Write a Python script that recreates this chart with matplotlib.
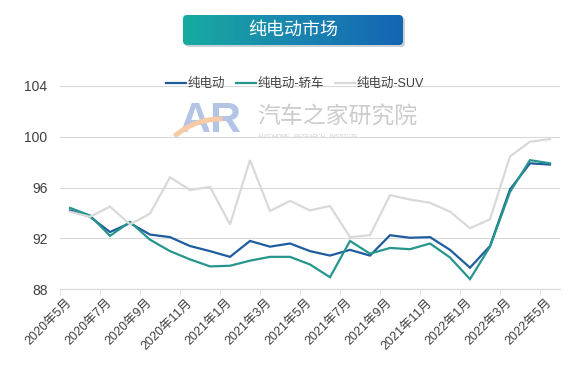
import numpy as np
import matplotlib
matplotlib.use('Agg')
import matplotlib.pyplot as plt
from matplotlib.patches import FancyBboxPatch, Arc
from matplotlib.colors import LinearSegmentedColormap

plt.rcParams['font.family'] = ['Liberation Sans', 'Noto Sans CJK SC']

months = ['2020年5月', '2020年6月', '2020年7月', '2020年8月', '2020年9月',
          '2020年10月', '2020年11月', '2020年12月', '2021年1月', '2021年2月',
          '2021年3月', '2021年4月', '2021年5月', '2021年6月', '2021年7月',
          '2021年8月', '2021年9月', '2021年10月', '2021年11月', '2021年12月',
          '2022年1月', '2022年2月', '2022年3月', '2022年4月', '2022年5月']
tick_labels = months[::2]

bev = [94.2, 93.7, 92.5, 93.2, 92.3, 92.1, 91.4, 91.0, 90.55, 91.8, 91.35, 91.6,
       91.0, 90.65, 91.1, 90.65, 92.25, 92.05, 92.1, 91.1, 89.7, 91.4, 95.85,
       97.9, 97.8]
bev_sedan = [94.4, 93.8, 92.2, 93.3, 91.9, 91.0, 90.35, 89.8, 89.85, 90.25,
             90.55, 90.55, 89.95, 88.95, 91.8, 90.8, 91.25, 91.15, 91.6, 90.5,
             88.8, 91.35, 95.65, 98.15, 97.9]
bev_suv = [94.1, 93.7, 94.5, 93.1, 93.95, 96.8, 95.8, 96.05, 93.1, 98.15, 94.15,
           94.95, 94.2, 94.55, 92.1, 92.25, 95.4, 95.05, 94.8, 94.1, 92.8, 93.5,
           98.45, 99.6, 99.8]
series_names = ['纯电动', '纯电动-轿车', '纯电动-SUV']
yticks = [88, 92, 96, 100, 104]

W, H = 587, 382
fig = plt.figure(figsize=(W / 100, H / 100), dpi=100)

# overlay in pixel coords for banner and watermark:
ov = fig.add_axes([0, 0, 1, 1], zorder=0)
ov.axis('off')

# title banner with gradient fill:
shadow = FancyBboxPatch((185, 17), 220, 30, boxstyle='round,pad=0,rounding_size=4',
                        facecolor='#9aa4b0', edgecolor='none', alpha=0.5)
ov.add_patch(shadow)
box = FancyBboxPatch((183, 15), 220, 30, boxstyle='round,pad=0,rounding_size=4',
                     facecolor='none', edgecolor='none')
ov.add_patch(box)
cmap = LinearSegmentedColormap.from_list('banner', ['#17aba0', '#1a86b0', '#1565b4'])
img = ov.imshow(np.linspace(0, 1, 256)[None, :], extent=(183, 403, 45, 15),
                cmap=cmap, aspect='auto', zorder=2)
img.set_clip_path(box)
ov.set_xlim(0, W)
ov.set_ylim(H, 0)
ov.text(293, 30, '纯电动市场', color='white', fontsize=13, ha='center', va='center',
        family=['Noto Sans CJK SC'], zorder=3)

# watermark:
ov.text(211, 121, 'AR', fontsize=31, weight='bold', color='#b3c4e4', ha='center',
        va='center', zorder=1)
ov.add_patch(Arc((220, 187), 136, 136, theta1=228, theta2=272, color='#f8cba6',
                 lw=3.6, zorder=1.5))
ov.text(257, 117, '汽车之家研究院', fontsize=16.5, color='#cccccc', ha='left',
        va='center', family=['Noto Sans CJK SC'], zorder=1)
ov.text(258, 136, 'AUTOHOME   RESEARCH   INSTITUTE', fontsize=4, color='#cccccc',
        ha='left', va='center', zorder=1)

# main chart:
ax = fig.add_axes([60 / W, 1 - 289.3 / H, 500 / W, (289.3 - 85.7) / H], zorder=1)
ax.patch.set_alpha(0)
x = np.arange(len(months))
l1, = ax.plot(x, bev, color='#1f5c9e', lw=1.6, solid_joinstyle='miter')
l2, = ax.plot(x, bev_sedan, color='#26968c', lw=1.6, solid_joinstyle='miter')
l3, = ax.plot(x, bev_suv, color='#d9d9d9', lw=1.6, solid_joinstyle='miter')

ax.set_xlim(-0.5, len(months) - 0.5)
ax.set_ylim(88, 104)
ax.set_yticks(yticks)
# tick marks between categories, labels ending near each labelled month:
ax.set_xticks(np.arange(-0.5, len(months) - 1, 2), minor=True)
ax.set_xticks(np.arange(0, len(months), 2))
ax.set_xticklabels(tick_labels, rotation=45, ha='right', va='center',
                   rotation_mode='anchor')
ax.grid(axis='y', color='#d9d9d9', lw=0.8)
ax.set_axisbelow(True)
for s in ['top', 'right', 'left']:
    ax.spines[s].set_visible(False)
ax.spines['bottom'].set_color('#d9d9d9')
ax.tick_params(axis='y', length=0, pad=9, labelsize=10, labelcolor='#404040')
ax.tick_params(axis='x', which='major', length=0, labelsize=9,
               labelcolor='#404040', pad=8.5)
ax.tick_params(axis='x', which='minor', length=4, color='#d9d9d9')

fig.legend(handles=[l1, l2, l3], labels=series_names, loc='center',
           bbox_to_anchor=(295 / W, 1 - 84 / H), ncol=3, frameon=False,
           fontsize=9, handlelength=1.6, handletextpad=0.1, columnspacing=0.9,
           labelcolor='#404040')

fig.savefig('out.png', dpi=100)
